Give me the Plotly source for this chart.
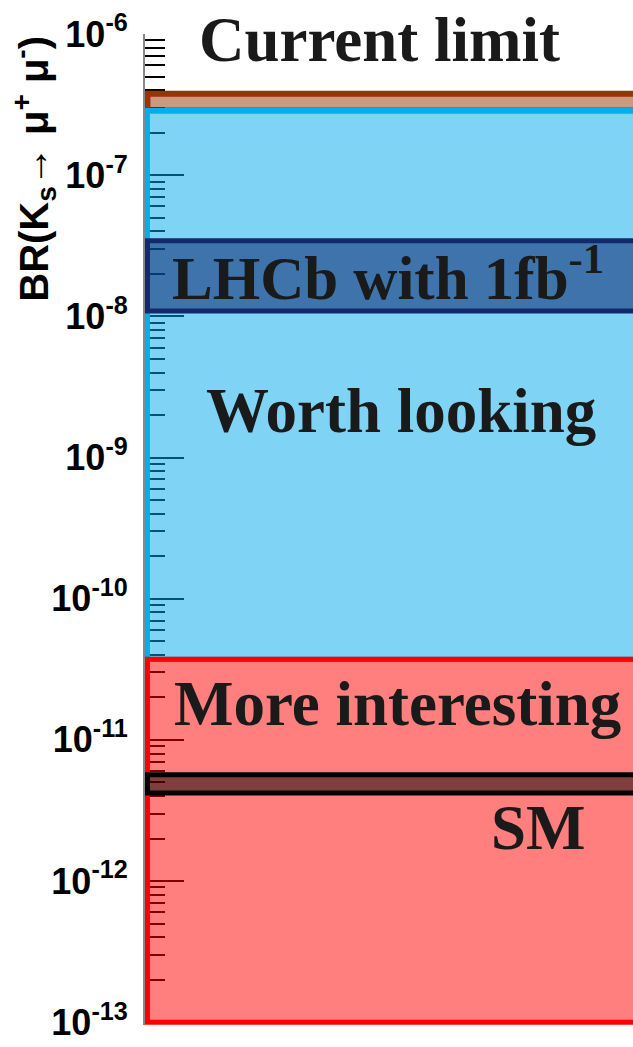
import plotly.graph_objects as go

# ---- data ----
band_names = ["Current limit", "Worth looking", "LHCb with 1fb<sup>-1</sup>", "More interesting", "SM"]
band_low = [2.87e-7, 3.73e-11, 1.09e-8, 1.0e-13, 4.2e-12]
band_high = [3.77e-7, 2.87e-7, 3.43e-8, 3.73e-11, 5.67e-12]
band_line = ["#993300", "#00AEEF", "#14286C", "#FF0000", "#000000"]
band_fill = ["rgba(153,51,0,0.5)", "rgba(0,170,238,0.5)", "rgba(10,36,110,0.55)",
             "rgba(255,0,0,0.5)", "rgba(0,0,0,0.5)"]
band_lw = [6, 5, 5, 5, 5]

# label positions (x in plot fraction, y in log10 units)
label_x = [0.480, 0.525, 0.497, 0.517, 0.806]
label_y = [-6.043, -8.670, -7.700, -10.745, -11.625]
label_size = [63, 63, 61, 63, 63]

tick_exponents = [-13, -12, -11, -10, -9, -8, -7, -6]
tick_vals = [10.0 ** e for e in tick_exponents]
tick_text = ["10<sup>%d</sup>" % e for e in tick_exponents]
minor_vals = [k * 10.0 ** e for e in tick_exponents[:-1] for k in range(2, 10)]

fig = go.Figure()
# invisible trace to set up axes
fig.add_trace(go.Scatter(x=[0, 1], y=[1e-13, 1e-6], mode="markers",
                         marker=dict(opacity=0), hoverinfo="skip", showlegend=False))

for lo, hi, lc, fc, lw in zip(band_low, band_high, band_line, band_fill, band_lw):
    fig.add_shape(type="rect", xref="x", yref="y", x0=0.005, x1=1.2, y0=lo, y1=hi,
                  line=dict(color=lc, width=lw), fillcolor=fc, layer="above")

for name, lx, ly, ls in zip(band_names, label_x, label_y, label_size):
    fig.add_annotation(x=lx, y=ly, xref="x", yref="y", text="<b>%s</b>" % name,
                       showarrow=False, xanchor="center", yanchor="middle",
                       font=dict(family="Liberation Serif", size=ls, color="#1a1a1a"))

fig.add_annotation(xref="paper", yref="paper", x=-0.228, y=1.0, xanchor="center", yanchor="top",
                   text="<b>BR(K<sub>s</sub>\u2192 \u03bc<sup>+</sup> \u03bc<sup>-</sup>)</b>",
                   textangle=-90, showarrow=False,
                   font=dict(family="Liberation Sans", size=40, color="black"))

fig.update_xaxes(range=[0, 1], visible=False, showgrid=False, zeroline=False, automargin=False)
fig.update_yaxes(type="log", range=[-13.02, -6], showgrid=False, zeroline=False,
                 automargin=False,
                 showline=True, linecolor="#888888", linewidth=2,
                 tickmode="array", tickvals=tick_vals, ticktext=tick_text,
                 ticks="inside", ticklen=39, tickwidth=2, tickcolor="black",
                 ticklabelstandoff=8,
                 tickfont=dict(family="Liberation Sans", size=36, color="black", weight="bold"),
                 minor=dict(tickmode="array", tickvals=minor_vals, ticks="inside",
                            ticklen=20, tickwidth=2, tickcolor="black", showgrid=False),
                 layer="below traces")

fig.update_layout(width=633, height=1047, margin=dict(l=145, r=0, t=34, b=22),
                  plot_bgcolor="white", paper_bgcolor="white", showlegend=False)

fig.write_html("out.html", config={"displayModeBar": False},
               post_script="document.body.style.margin='0';document.body.style.overflow='hidden';")
